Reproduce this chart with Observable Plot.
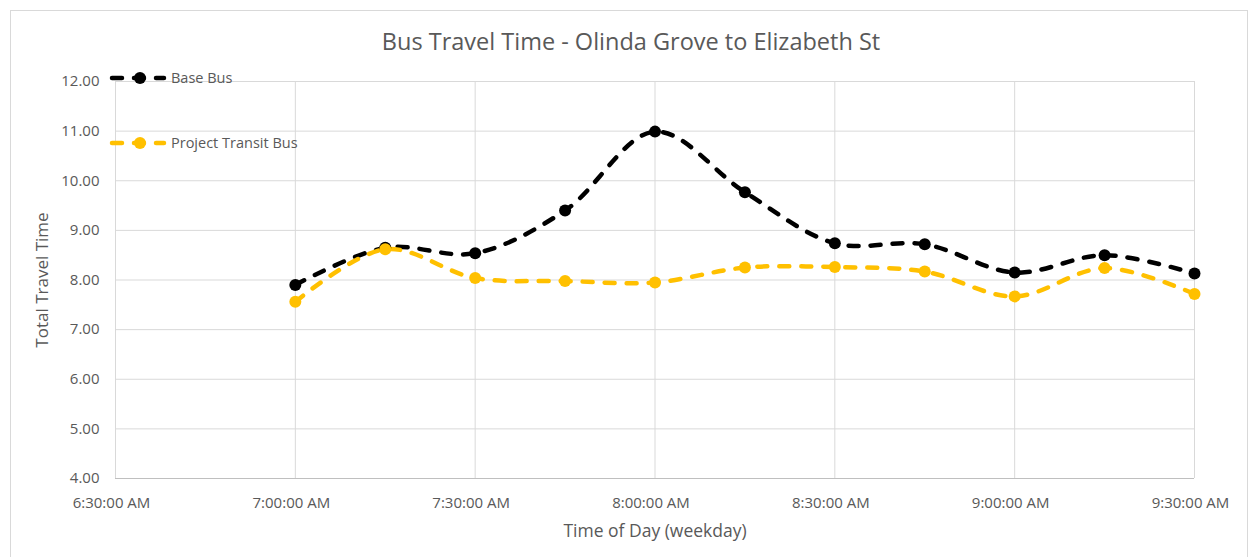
<!DOCTYPE html>
<html>
<head>
<meta charset="utf-8">
<script src="https://cdn.jsdelivr.net/npm/d3@7"></script>
<script src="https://cdn.jsdelivr.net/npm/@observablehq/plot@0.6"></script>
<style>
  html, body { margin: 0; padding: 0; background: #fff; }
  body { width: 1252px; height: 557px; position: relative; overflow: hidden; font-family: "Open Sans", sans-serif; }
  #frame { position: absolute; left: 10px; top: 10px; width: 1238px; height: 560px; border: 1px solid #d9d9d9; box-sizing: border-box; }
  #title { position: absolute; left: 0; top: 25px; width: 1262px; text-align: center; font-size: 23.5px; color: #595959; line-height: 32px; }
  #chart { position: absolute; left: 0; top: 65px; }
  .leg { position: absolute; left: 108px; display: flex; align-items: center; font-size: 14.5px; color: #595959; }
  .leg svg { margin-right: 3px; }
</style>
</head>
<body>
<div id="frame"></div>
<div id="title">Bus Travel Time - Olinda Grove to Elizabeth St</div>
<div id="chart"></div>
<div class="leg" id="leg1" style="top:68px"></div>
<div class="leg" id="leg2" style="top:133px"></div>
<script>
// ---- data ----
const times = ["7:00","7:15","7:30","7:45","8:00","8:15","8:30","8:45","9:00","9:15","9:30"];
const baseBus = [7.90, 8.65, 8.54, 9.40, 10.99, 9.77, 8.74, 8.72, 8.15, 8.50, 8.13];
const projectBus = [7.56, 8.62, 8.04, 7.98, 7.95, 8.25, 8.26, 8.17, 7.67, 8.24, 7.72];
const seriesNames = ["Base Bus", "Project Transit Bus"];
const seriesColors = ["#000000", "#FFC000"];
const xTickLabels = ["6:30","7:00","7:30","8:00","8:30","9:00","9:30"];
const yTicks = [4, 5, 6, 7, 8, 9, 10, 11, 12];

const toDate = s => { const [h, m] = s.split(":").map(Number); return new Date(2020, 0, 1, h, m); };
const rows = [];
times.forEach((t, i) => {
  rows.push({time: toDate(t), value: baseBus[i], series: seriesNames[0]});
  rows.push({time: toDate(t), value: projectBus[i], series: seriesNames[1]});
});
const fmt = d3.timeFormat("%-I:%M:%S %p");
const gridColor = "#d9d9d9";
const textColor = "#595959";

const plot = Plot.plot({
  width: 1252,
  height: 492,
  marginTop: 16,
  marginBottom: 79,
  marginLeft: 115,
  marginRight: 58,
  style: { fontFamily: "Open Sans, sans-serif", fontSize: "15px", color: textColor, background: "transparent" },
  x: { type: "time", domain: [toDate(xTickLabels[0]), toDate(xTickLabels[xTickLabels.length - 1])] },
  y: { domain: [4, 12] },
  color: { domain: seriesNames, range: seriesColors },
  marks: [
    Plot.gridX(xTickLabels.map(toDate), { stroke: gridColor, strokeOpacity: 1 }),
    Plot.gridY(yTicks, { stroke: gridColor, strokeOpacity: 1 }),
    Plot.ruleY([4], { stroke: "#bfbfbf" }),
    Plot.axisX(xTickLabels.map(toDate), { tickSize: 0, tickPadding: 19, tickFormat: fmt, label: null, fill: textColor, dx: -4 }),
    Plot.axisY(yTicks, { tickSize: 0, tickPadding: 16, tickFormat: d => d.toFixed(2), label: null, fill: textColor }),
    Plot.text(["Time of Day (weekday)"], { frameAnchor: "bottom", dy: 58, fontSize: 17.5, fill: textColor }),
    Plot.text(["Total Travel Time"], { frameAnchor: "left", textAnchor: "middle", dx: -73, rotate: -90, fontSize: 17, fill: textColor }),
    Plot.line(rows, { x: "time", y: "value", z: "series", stroke: "series", strokeWidth: 4.5,
      strokeDasharray: "10,12", strokeLinecap: "round", curve: "catmull-rom" }),
    Plot.dot(rows, { x: "time", y: "value", fill: "series", r: 6 })
  ]
});
document.getElementById("chart").appendChild(plot);

function legend(id, i) {
  const el = document.getElementById(id);
  el.innerHTML = `<svg width="60" height="16"><line x1="4" y1="8" x2="56" y2="8" stroke="${seriesColors[i]}" stroke-width="4.5" stroke-dasharray="10,12" stroke-linecap="round"/><circle cx="32" cy="8" r="6" fill="${seriesColors[i]}"/></svg><span>${seriesNames[i]}</span>`;
}
legend("leg1", 0);
legend("leg2", 1);
</script>
</body>
</html>
